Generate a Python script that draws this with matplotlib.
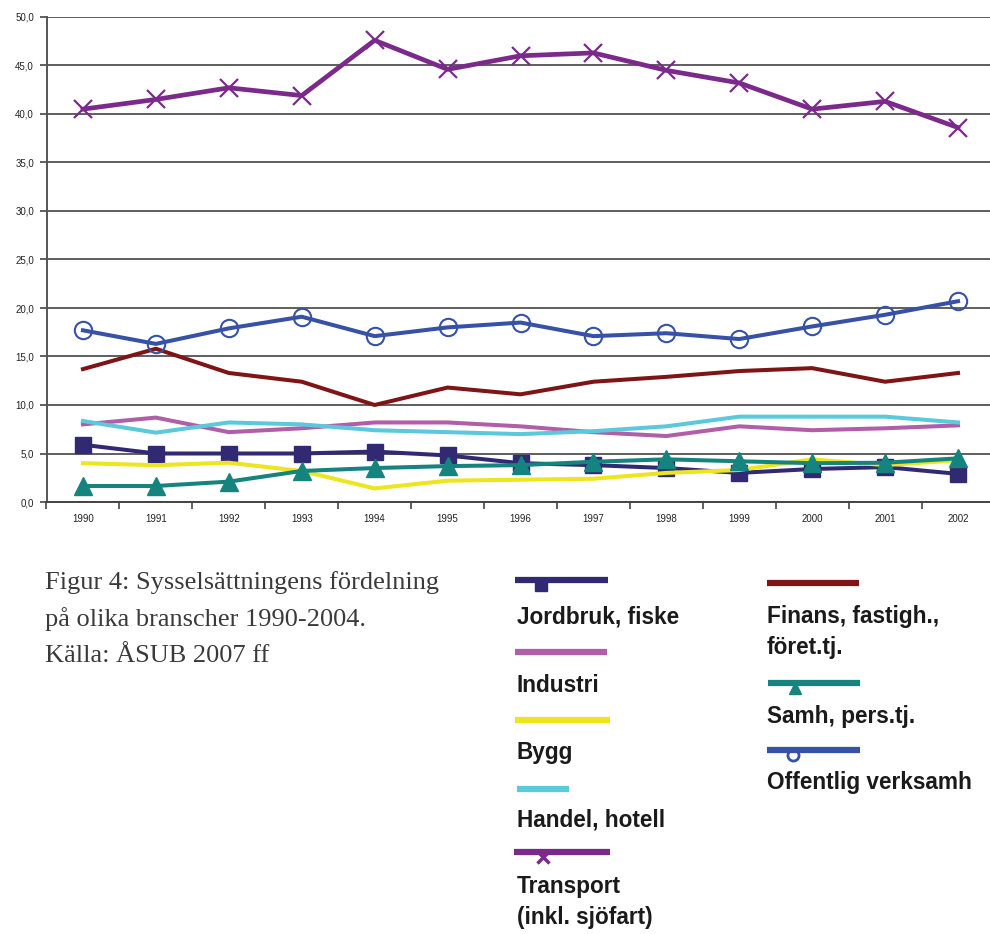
import matplotlib
matplotlib.use("Agg")
import matplotlib.pyplot as plt
from matplotlib.lines import Line2D

years = ["1990", "1991", "1992", "1993", "1994", "1995", "1996",
         "1997", "1998", "1999", "2000", "2001", "2002"]

jordbruk = [5.9, 5.0, 5.0, 5.0, 5.2, 4.8, 4.0, 3.8, 3.5, 3.0, 3.4, 3.6, 2.9]
industri = [8.0, 8.7, 7.2, 7.6, 8.2, 8.2, 7.8, 7.2, 6.8, 7.8, 7.4, 7.6, 7.9]
bygg = [4.0, 3.8, 4.05, 3.2, 1.4, 2.2, 2.3, 2.4, 3.0, 3.3, 4.4, 3.8, 4.3]
handel = [8.35, 7.15, 8.2, 8.0, 7.4, 7.2, 7.0, 7.3, 7.8, 8.8, 8.8, 8.8, 8.2]
transport = [40.5, 41.5, 42.7, 41.9, 47.6, 44.6, 46.0, 46.3, 44.5, 43.2, 40.5, 41.3, 38.6]
finans = [13.7, 15.8, 13.3, 12.4, 10.0, 11.8, 11.1, 12.4, 12.9, 13.5, 13.8, 12.4, 13.3]
samh = [1.65, 1.65, 2.1, 3.2, 3.5, 3.7, 3.8, 4.15, 4.4, 4.2, 4.0, 4.05, 4.5]
offentlig = [17.7, 16.3, 17.9, 19.1, 17.1, 18.0, 18.5, 17.1, 17.4, 16.8, 18.1, 19.3, 20.7]

W, H = 990, 934
fig = plt.figure(figsize=(W / 100, H / 100), dpi=100)

ax = fig.add_axes([46.5 / W, (H - 502) / H, (994.5 - 46.5) / W, (502 - 17) / H])
ax.set_xlim(-0.5, 12.5)
ax.set_ylim(0, 50)

x = list(range(len(years)))
lw = 2.9
ax.plot(x, jordbruk, color="#312a73", lw=lw, marker="s", ms=12, mec="#312a73", zorder=3)
ax.plot(x, industri, color="#b05ea8", lw=lw, zorder=3)
ax.plot(x, bygg, color="#ede51e", lw=lw, zorder=3)
ax.plot(x, handel, color="#5bc8db", lw=lw, zorder=3)
ax.plot(x, transport, color="#7b2a8c", lw=3.4, marker="x", ms=13.5, mew=1.6, zorder=3)
ax.plot(x, finans, color="#7f1416", lw=lw, zorder=3)
ax.plot(x, samh, color="#15847e", lw=lw, marker="^", ms=13, zorder=4)
ax.plot(x, offentlig, color="#3651a6", lw=lw, marker="o", ms=12.5, mfc="none", mew=1.5, zorder=3)

tick_font = "Liberation Sans"
ax.set_yticks(range(0, 51, 5))
ax.set_yticklabels([f"{v},0" for v in range(0, 51, 5)], fontsize=7,
                   color="#222222", family=tick_font)
ax.yaxis.grid(True, color="#333333", lw=1.1)
ax.set_axisbelow(True)
ax.set_xticks(x)
ax.set_xticklabels(years, fontsize=7, color="#222222", family=tick_font)
ax.tick_params(axis="x", length=0, pad=9)
ax.set_xticks([i - 0.5 for i in range(14)], minor=True)
ax.tick_params(axis="x", which="minor", length=5, width=1.2, color="#444444")
ax.tick_params(axis="y", length=5, width=1.2, color="#444444", pad=4)
for s in ["top", "right"]:
    ax.spines[s].set_visible(False)
ax.spines["left"].set_color("#555555")
ax.spines["left"].set_linewidth(1.4)
ax.spines["bottom"].set_color("#444444")
ax.spines["bottom"].set_linewidth(1.4)


def fx(px):
    return px / W


def fy(py):
    return (H - py) / H


# caption
caption = ["Figur 4: Sysselsättningens fördelning",
           "på olika branscher 1990-2004.",
           "Källa: ÅSUB 2007 ff"]
caption_y = [583, 619, 656]
for line, yy in zip(caption, caption_y):
    fig.text(fx(45), fy(yy), line, family="Liberation Serif", fontsize=19,
             va="center", color="#3a3a3a")

# legend (drawn manually)
names = ["Jordbruk, fiske", "Industri", "Bygg", "Handel, hotell",
         "Transport\n(inkl. sjöfart)", "Finans, fastigh.,\nföret.tj.",
         "Samh, pers.tj.", "Offentlig verksamh"]
colors = ["#312a73", "#b05ea8", "#ede51e", "#5bc8db", "#7b2a8c",
          "#7f1416", "#15847e", "#3651a6"]
markers = ["s", None, None, None, "x", None, "^", "o"]
line_x = [(515, 608), (515, 607), (515, 610), (517, 569), (514, 610),
          (767, 859), (768, 860), (767, 860)]
line_y = [580, 652, 720, 789, 852, 583, 683, 750]
mark_x = [541, None, None, None, 543, None, 795, 793]
text_y = [617, 686, 752, 820, 902, 632, 716, 782]

legend_font = ["Liberation Sans", "DejaVu Sans"]
for i, name in enumerate(names):
    x0, x1 = line_x[i]
    fig.add_artist(Line2D([fx(x0), fx(x1)], [fy(line_y[i]), fy(line_y[i])],
                          color=colors[i], lw=4.5, transform=fig.transFigure,
                          solid_capstyle="butt"))
    if markers[i] is not None:
        kw = dict(color=colors[i], marker=markers[i], ms=8, ls="none",
                  transform=fig.transFigure)
        if markers[i] == "o":
            kw.update(mfc="none", mew=2, ms=8)
        if markers[i] == "x":
            kw.update(mew=2.5, ms=8)
        fig.add_artist(Line2D([fx(mark_x[i])], [fy(line_y[i] + 5)], **kw))
    tx = 517 if i < 5 else 767
    fig.text(fx(tx), fy(text_y[i]), name, family=legend_font, weight="bold",
             fontsize=16.3, va="center", color="#1a1a1a", linespacing=1.4)

fig.savefig("out.png", dpi=100)
